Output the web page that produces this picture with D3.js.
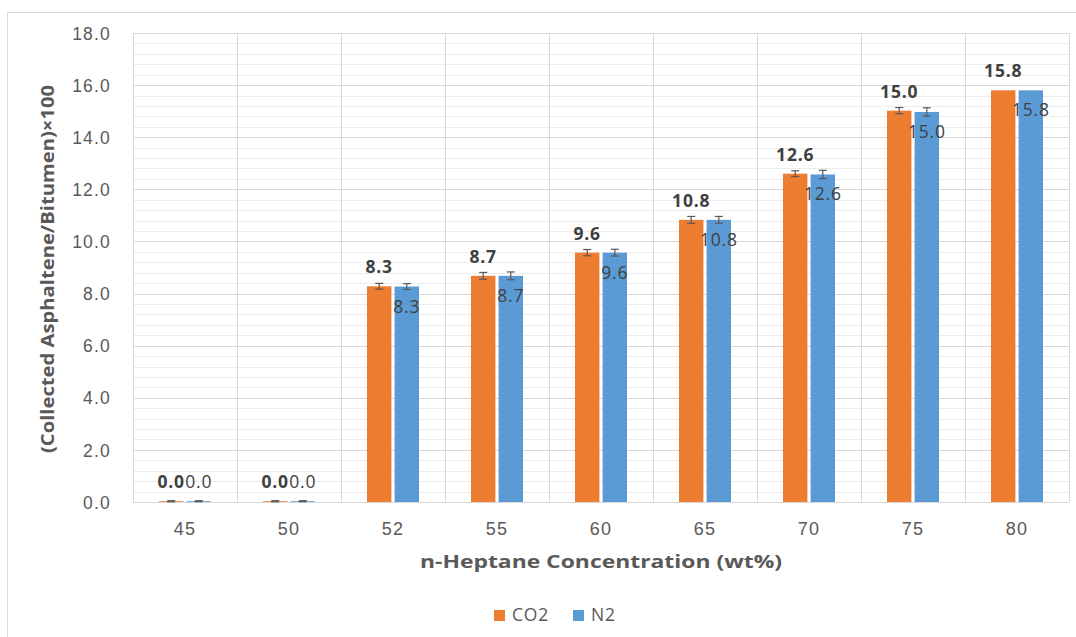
<!DOCTYPE html>
<html>
<head>
<meta charset="utf-8">
<script src="https://cdn.jsdelivr.net/npm/d3@7"></script>
<style>
  html, body { margin: 0; padding: 0; background: #fff; }
  svg { display: block; font-family: "Open Sans", sans-serif; }
</style>
</head>
<body>
<svg id="chart" width="1076" height="637"></svg>
<script>
const categories = ["45", "50", "52", "55", "60", "65", "70", "75", "80"];
const seriesNames = ["CO2", "N2"];
const co2Values = [0.03, 0.03, 8.28, 8.68, 9.57, 10.83, 12.6, 15.02, 15.8];
const n2Values  = [0.03, 0.03, 8.27, 8.68, 9.57, 10.83, 12.57, 14.97, 15.8];
const co2Errors = [0.02, 0.02, 0.11, 0.13, 0.12, 0.13, 0.11, 0.12, 0];
const n2Errors  = [0.02, 0.02, 0.11, 0.15, 0.13, 0.13, 0.16, 0.16, 0];
const yTicks = [0, 2, 4, 6, 8, 10, 12, 14, 16, 18];
const colors = ["#ED7D31", "#5B9BD5"];

const svg = d3.select("#chart");
const plot = { left: 133, right: 1069, top: 33, bottom: 502 };

// outer chart border
svg.append("rect").attr("x", 7.5).attr("y", 12.5).attr("width", 1200).attr("height", 800)
  .attr("fill", "none").attr("stroke", "#d9d9d9");

const x0 = d3.scaleBand().domain(categories).range([plot.left, plot.right]).padding(0);
const bw = x0.bandwidth();
const x1 = d3.scaleBand().domain(seriesNames).range([bw * 0.25, bw * 0.75]).paddingInner(0.115).paddingOuter(0);
const y = d3.scaleLinear().domain([0, 18]).range([plot.bottom, plot.top]);

// minor gridlines
const minor = d3.range(0, 18.001, 0.4).filter(v => Math.abs(v / 2 - Math.round(v / 2)) > 1e-6);
svg.append("g").selectAll("line").data(minor).join("line")
  .attr("x1", plot.left).attr("x2", plot.right)
  .attr("y1", d => Math.round(y(d)) + 0.5).attr("y2", d => Math.round(y(d)) + 0.5)
  .attr("stroke", "#ececec").attr("stroke-width", 1);

// major gridlines
svg.append("g").selectAll("line").data(yTicks).join("line")
  .attr("x1", plot.left).attr("x2", plot.right)
  .attr("y1", d => Math.round(y(d)) + 0.5).attr("y2", d => Math.round(y(d)) + 0.5)
  .attr("stroke", "#d9d9d9").attr("stroke-width", 1);

// vertical gridlines at category boundaries
const bounds = categories.map(c => x0(c)).concat([plot.right]);
svg.append("g").selectAll("line").data(bounds).join("line")
  .attr("x1", d => Math.round(d) + 0.5).attr("x2", d => Math.round(d) + 0.5)
  .attr("y1", plot.top).attr("y2", plot.bottom)
  .attr("stroke", "#d9d9d9").attr("stroke-width", 1);

// y axis labels
const yAxis = d3.axisLeft(y).tickValues(yTicks).tickFormat(d3.format(".1f")).tickSize(0).tickPadding(0);
const gy = svg.append("g").attr("transform", `translate(111,0)`).call(yAxis);
gy.select(".domain").remove();
gy.selectAll("text").attr("fill", "#595959").attr("font-size", "17.5px")
  .attr("letter-spacing", "1.2px").attr("dy", "0.35em");

// x axis labels
const xAxis = d3.axisBottom(x0).tickSize(0).tickPadding(0);
const gx = svg.append("g").attr("transform", `translate(0,${plot.bottom})`).call(xAxis);
gx.select(".domain").attr("stroke", "#d9d9d9");
gx.selectAll("text").attr("fill", "#595959").attr("font-size", "18px")
  .attr("letter-spacing", "1.2px").attr("dy", null).attr("y", 33);

// bars
const data = categories.map((c, i) => ({
  cat: c,
  vals: [
    { s: "CO2", v: co2Values[i], e: co2Errors[i], k: 0 },
    { s: "N2", v: n2Values[i], e: n2Errors[i], k: 1 }
  ]
}));

const groups = svg.append("g").selectAll("g").data(data).join("g")
  .attr("transform", d => `translate(${x0(d.cat)},0)`);

groups.selectAll("rect").data(d => d.vals).join("rect")
  .attr("x", d => x1(d.s)).attr("width", x1.bandwidth())
  .attr("y", d => y(d.v)).attr("height", d => y(0) - y(d.v))
  .attr("fill", d => colors[d.k]);

// error bars
const eb = groups.selectAll("g.err").data(d => d.vals.filter(v => v.e > 0)).join("g").attr("class", "err");
eb.append("line")
  .attr("x1", d => x1(d.s) + x1.bandwidth() / 2).attr("x2", d => x1(d.s) + x1.bandwidth() / 2)
  .attr("y1", d => y(d.v + d.e)).attr("y2", d => y(Math.max(0, d.v - d.e)));
eb.append("line")
  .attr("x1", d => x1(d.s) + x1.bandwidth() / 2 - 4).attr("x2", d => x1(d.s) + x1.bandwidth() / 2 + 4)
  .attr("y1", d => y(d.v + d.e)).attr("y2", d => y(d.v + d.e));
eb.append("line")
  .attr("x1", d => x1(d.s) + x1.bandwidth() / 2 - 4).attr("x2", d => x1(d.s) + x1.bandwidth() / 2 + 4)
  .attr("y1", d => y(Math.max(0, d.v - d.e))).attr("y2", d => y(Math.max(0, d.v - d.e)));
eb.selectAll("line").attr("stroke", "#595959").attr("stroke-width", 1.2);

// data labels
const fmt = d3.format(".1f");
groups.selectAll("text.lbl").data(d => d.vals).join("text").attr("class", "lbl")
  .attr("x", d => x1(d.s) + x1.bandwidth() / 2)
  .attr("y", d => {
    const top = y(d.v);
    if (d.k === 0) return top - 13;
    return (y(0) - top) < 30 ? top - 13 : top + 26;
  })
  .attr("text-anchor", "middle")
  .attr("font-size", "17.5px")
  .attr("letter-spacing", "0.8px")
  .attr("font-weight", d => d.k === 0 ? "bold" : "normal")
  .attr("fill", "#404040")
  .text(d => fmt(d.v));

// axis titles
svg.append("text").attr("x", (plot.left + plot.right) / 2).attr("y", 568)
  .attr("text-anchor", "middle").attr("font-size", "17.5px").attr("font-weight", "bold")
  .attr("fill", "#595959").attr("textLength", 362).attr("lengthAdjust", "spacingAndGlyphs")
  .text("n-Heptane Concentration (wt%)");

svg.append("text").attr("transform", `translate(54,269) rotate(-90)`)
  .attr("text-anchor", "middle").attr("font-size", "18.5px").attr("font-weight", "bold")
  .attr("fill", "#595959").attr("textLength", 368).attr("lengthAdjust", "spacingAndGlyphs")
  .text("(Collected Asphaltene/Bitumen)\u00d7100");

// legend
const legendItems = [
  { name: "CO2", x: 494, color: colors[0] },
  { name: "N2", x: 573, color: colors[1] }
];
const lg = svg.append("g").selectAll("g").data(legendItems).join("g");
lg.append("rect").attr("x", d => d.x).attr("y", 610).attr("width", 11).attr("height", 11)
  .attr("fill", d => d.color);
lg.append("text").attr("x", d => d.x + 18).attr("y", 621)
  .attr("font-size", "17.5px").attr("letter-spacing", "0.8px").attr("fill", "#595959")
  .text(d => d.name);
</script>
</body>
</html>
